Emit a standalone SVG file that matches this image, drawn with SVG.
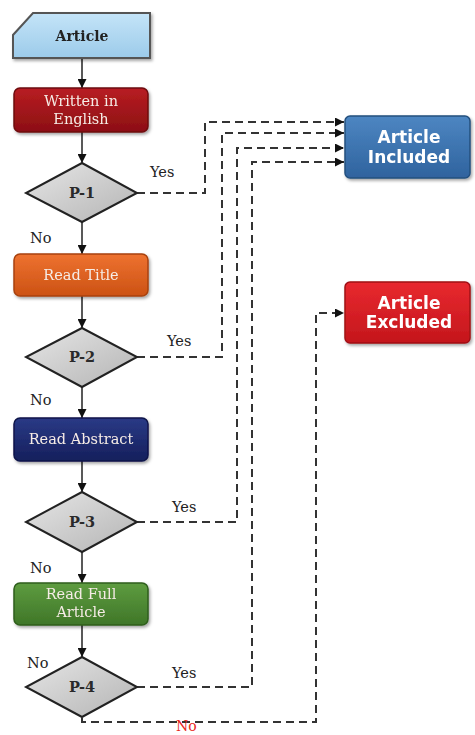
<svg xmlns="http://www.w3.org/2000/svg" width="475" height="735" viewBox="0 0 475 735">
<defs>
<linearGradient id="gBlueL" x1="0" y1="0" x2="0" y2="1"><stop offset="0" stop-color="#c4e4f8"/><stop offset="1" stop-color="#9ccbea"/></linearGradient>
<linearGradient id="gRed" x1="0" y1="0" x2="0" y2="1"><stop offset="0" stop-color="#b81d22"/><stop offset="1" stop-color="#8c0f14"/></linearGradient>
<linearGradient id="gOrange" x1="0" y1="0" x2="0" y2="1"><stop offset="0" stop-color="#ee7230"/><stop offset="1" stop-color="#cc5214"/></linearGradient>
<linearGradient id="gNavy" x1="0" y1="0" x2="0" y2="1"><stop offset="0" stop-color="#2a3a86"/><stop offset="1" stop-color="#151f5c"/></linearGradient>
<linearGradient id="gGreen" x1="0" y1="0" x2="0" y2="1"><stop offset="0" stop-color="#5e9c40"/><stop offset="1" stop-color="#3f7628"/></linearGradient>
<linearGradient id="gBlue" x1="0" y1="0" x2="0" y2="1"><stop offset="0" stop-color="#4d86c2"/><stop offset="1" stop-color="#2f639e"/></linearGradient>
<linearGradient id="gRedB" x1="0" y1="0" x2="0" y2="1"><stop offset="0" stop-color="#e8292f"/><stop offset="1" stop-color="#c4161c"/></linearGradient>
<linearGradient id="gGray" x1="0" y1="0" x2="1" y2="1"><stop offset="0" stop-color="#e6e6e6"/><stop offset="1" stop-color="#b4b4b4"/></linearGradient>
<filter id="sh" x="-10%" y="-10%" width="130%" height="140%"><feDropShadow dx="1.5" dy="2" stdDeviation="1.5" flood-color="#000" flood-opacity="0.35"/></filter>
<marker id="ahs" viewBox="0 0 10 10" refX="10" refY="5" markerWidth="9" markerHeight="9" orient="auto" markerUnits="userSpaceOnUse"><path d="M0,0 L10,5 L0,10 z" fill="#111"/></marker>
</defs>
<style>
.serif{font-family:"DejaVu Serif","Liberation Serif",serif;}
.sans{font-family:"DejaVu Sans","Liberation Sans",sans-serif;font-weight:bold;}
.box{stroke-width:1.5;}
.wt{fill:#f6ece6;font-size:14.5px;text-anchor:middle;}
.bt{fill:#fff;font-size:17px;text-anchor:middle;}
.dia{fill:url(#gGray);stroke:#222;stroke-width:2;}
.dt{fill:#2a2a2a;font-size:14.5px;font-weight:bold;text-anchor:middle;}
.lbl{fill:#222;font-size:14.5px;}
.solid{stroke:#222;stroke-width:1.5;fill:none;marker-end:url(#ahs);}
.dash{stroke:#333;stroke-width:2;fill:none;stroke-dasharray:8 5;marker-end:url(#ahs);}
</style>
<g id="connectors">
<line class="solid" x1="82" y1="59" x2="82" y2="88"/>
<line class="solid" x1="82" y1="132" x2="82" y2="163"/>
<line class="solid" x1="82" y1="222" x2="82" y2="254"/>
<line class="solid" x1="82" y1="296" x2="82" y2="328"/>
<line class="solid" x1="82" y1="387" x2="82" y2="418"/>
<line class="solid" x1="82" y1="461" x2="82" y2="492"/>
<line class="solid" x1="82" y1="552" x2="82" y2="583"/>
<line class="solid" x1="82" y1="625" x2="82" y2="657"/>
<polyline class="dash" points="137,193 205,193 205,122 344,122"/>
<polyline class="dash" points="137,357 222,357 222,133 344,133"/>
<polyline class="dash" points="137,522 237,522 237,148 344,148"/>
<polyline class="dash" points="137,687 252,687 252,162 344,162"/>
<polyline class="dash" points="82,718 82,722 316,722 316,313 344,313"/>
<text class="serif lbl" x="150" y="177">Yes</text>
<text class="serif lbl" x="167" y="346">Yes</text>
<text class="serif lbl" x="172" y="512">Yes</text>
<text class="serif lbl" x="172" y="678">Yes</text>
<text class="serif lbl" x="30" y="243">No</text>
<text class="serif lbl" x="30" y="405">No</text>
<text class="serif lbl" x="30" y="573">No</text>
<text class="serif lbl" x="27" y="668">No</text>
<text class="serif" x="176" y="731" fill="#e8261c" font-size="14">No</text>
</g>
<g id="article" filter="url(#sh)">
<polygon points="33,13 150,13 150,58 13,58 13,35" fill="url(#gBlueL)" stroke="#555" stroke-width="2"/>
<text class="serif" x="82" y="41" font-size="14" font-weight="bold" fill="#222" text-anchor="middle">Article</text>
</g>
<g id="english" filter="url(#sh)">
<rect class="box" x="14" y="88" width="134" height="44" rx="6" fill="url(#gRed)" stroke="#6e0a0e"/>
<text class="serif wt" x="81" y="106">Written in</text>
<text class="serif wt" x="81" y="124">English</text>
</g>
<g id="p1">
<polygon class="dia" points="82,163 137,193 82,222 26,193"/>
<text class="serif dt" x="82" y="198">P-1</text>
</g>
<g id="title" filter="url(#sh)">
<rect class="box" x="14" y="254" width="134" height="42" rx="6" fill="url(#gOrange)" stroke="#a8420e"/>
<text class="serif wt" x="81" y="280">Read Title</text>
</g>
<g id="p2">
<polygon class="dia" points="82,328 137,357 82,387 26,357"/>
<text class="serif dt" x="82" y="362">P-2</text>
</g>
<g id="abstract" filter="url(#sh)">
<rect class="box" x="14" y="418" width="134" height="43" rx="6" fill="url(#gNavy)" stroke="#0e154a"/>
<text class="serif wt" x="81" y="444">Read Abstract</text>
</g>
<g id="p3">
<polygon class="dia" points="82,492 137,522 82,552 26,522"/>
<text class="serif dt" x="82" y="527">P-3</text>
</g>
<g id="fullarticle" filter="url(#sh)">
<rect class="box" x="14" y="583" width="134" height="42" rx="6" fill="url(#gGreen)" stroke="#2f5e1c"/>
<text class="serif wt" x="81" y="599">Read Full</text>
<text class="serif wt" x="81" y="617">Article</text>
</g>
<g id="p4">
<polygon class="dia" points="82,657 137,687 82,717 26,687"/>
<text class="serif dt" x="82" y="692">P-4</text>
</g>
<g id="included" filter="url(#sh)">
<rect class="box" x="345" y="116" width="125" height="62" rx="5" fill="url(#gBlue)" stroke="#24507e"/>
<text class="sans bt" x="409" y="143">Article</text>
<text class="sans bt" x="409" y="163">Included</text>
</g>
<g id="excluded" filter="url(#sh)">
<rect class="box" x="345" y="282" width="125" height="61" rx="5" fill="url(#gRedB)" stroke="#a01016"/>
<text class="sans bt" x="409" y="309">Article</text>
<text class="sans bt" x="409" y="328">Excluded</text>
</g>
</svg>
